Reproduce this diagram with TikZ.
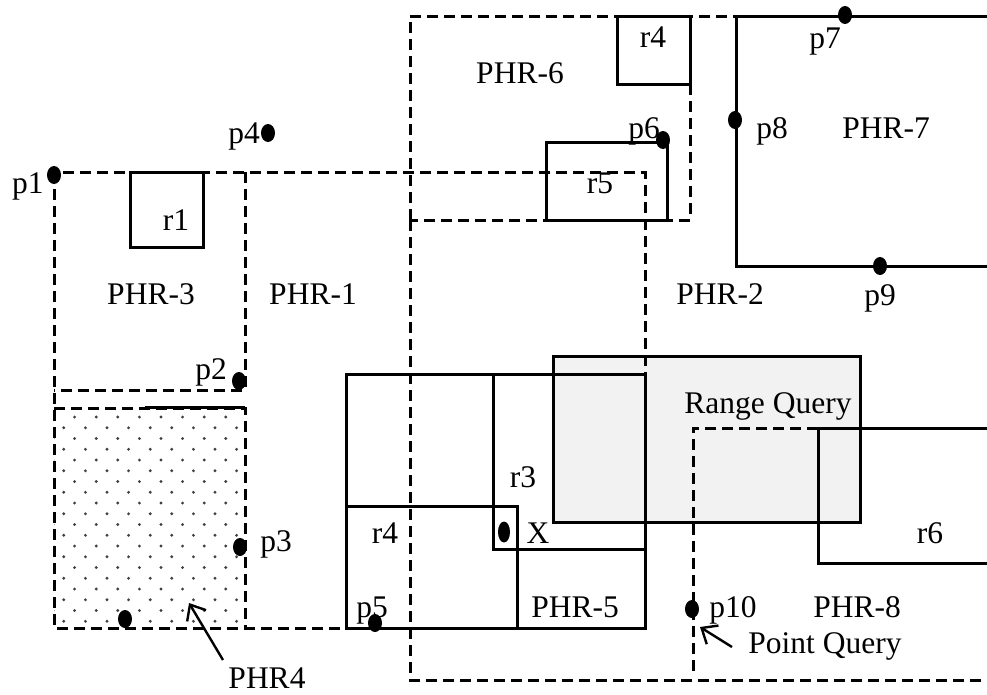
\documentclass[tikz,border=0pt]{standalone}
\usepackage{fontspec}
\setmainfont{Liberation Serif}
\usetikzlibrary{shapes.geometric,arrows.meta}
\tikzset{
  dsh/.style={line width=3pt, dash pattern=on 11pt off 6pt},
  sld/.style={line width=3pt},
  pt/.style={ellipse, fill=black, inner sep=0pt, minimum width=14pt, minimum height=18pt},
  lbl/.style={anchor=base, inner sep=0pt, font=\fontsize{31.5}{36}\selectfont},
  arr/.style={line width=2.4pt, -{Straight Barb[length=13pt,width=22pt,line width=2.4pt]}}
}
\begin{document}
\begin{tikzpicture}[x=1pt,y=-1pt]
\useasboundingbox (0,0) rectangle (987,694);
% range query fill
\fill[black!5] (553,356) rectangle (860,522);
% dotted PHR4
\begin{scope}
\clip (54,408) rectangle (245,628);
\foreach \i in {0,...,20}{
  \foreach \j in {0,...,9}{
    \pgfmathsetmacro{\xx}{53+21.6*\j+10.8*mod(\i,2)}
    \pgfmathsetmacro{\yy}{417+10.75*\i}
    \fill[black!75] (\xx,\yy) circle (1.6pt);
  }
}
\end{scope}
% dashed regions
\draw[dsh] (54,172) rectangle (645,628);
\draw[dsh] (245,172) -- (245,390) -- (54,390);
\draw[dsh] (54,408) -- (245,408) -- (245,628);
\draw[sld] (145,407) -- (245,407);
\draw[dsh] (410,220) -- (410,16) -- (987,16);
\draw[dsh] (690,16) -- (690,220) -- (410,220);
\draw[dsh] (410,220) -- (410,680) -- (987,680);
\draw[dsh] (818,428) -- (693,428) -- (693,672);
% solid rectangles
\draw[sld] (130,172) rectangle (203,247);
\draw[sld] (617,16) rectangle (690,84);
\draw[sld] (546,142) rectangle (667,220);
\draw[sld] (987,16) -- (736,16) -- (736,266) -- (987,266);
\draw[sld] (346,374) rectangle (645,628);
\draw[sld] (493,374) rectangle (645,549);
\draw[sld] (346,506) rectangle (517,628);
\draw[sld] (553,356) rectangle (860,522);
\draw[sld] (987,428) -- (818,428) -- (818,563) -- (987,563);
% points
\node[pt] (p1) at (54,175) {};
\node[pt] (p2) at (239,381) {};
\node[pt] (p3) at (240,547) {};
\node[pt] (p4) at (268,133) {};
\node[pt] (q4) at (125,619) {};
\node[pt] (p5) at (375,623) {};
\node[pt, minimum width=12pt, minimum height=21pt] (px) at (504,532) {};
\node[pt] (p6) at (663,140) {};
\node[pt] (p7) at (845,15) {};
\node[pt] (p8) at (735,120) {};
\node[pt] (p9) at (880,266) {};
\node[pt] (p10) at (692,609) {};
% labels
\node[lbl] (lp1) at (28,193) {p1};
\node[lbl] (lp4) at (244,143) {p4};
\node[lbl] (lr1) at (176,230) {r1};
\node[lbl] (lphr3) at (151,304) {PHR-3};
\node[lbl] (lphr1) at (313,304) {PHR-1};
\node[lbl] (lp2) at (211,379) {p2};
\node[lbl] (lp3) at (276,551) {p3};
\node[lbl] (lphr4) at (267,688) {PHR4};
\node[lbl] (lphr6) at (520,83) {PHR-6};
\node[lbl] (lr4a) at (653,47) {r4};
\node[lbl] (lp6) at (644,138) {p6};
\node[lbl] (lr5) at (600,193) {r5};
\node[lbl] (lp7) at (825,48) {p7};
\node[lbl] (lp8) at (772,138) {p8};
\node[lbl] (lphr7) at (886,138) {PHR-7};
\node[lbl] (lphr2) at (720,304) {PHR-2};
\node[lbl] (lp9) at (880,305) {p9};
\node[lbl] (lrq) at (768,413) {Range Query};
\node[lbl] (lr3) at (523,487) {r3};
\node[lbl] (lr4b) at (385,543) {r4};
\node[lbl] (lx) at (538,543) {X};
\node[lbl] (lr6) at (930,543) {r6};
\node[lbl] (lp5) at (372,617) {p5};
\node[lbl] (lphr5) at (575,617) {PHR-5};
\node[lbl] (lp10) at (733,617) {p10};
\node[lbl] (lphr8) at (857,617) {PHR-8};
\node[lbl] (lpq) at (825,653) {Point Query};
% arrows
\coordinate (a4tail) at (223,660);
\coordinate (a4tip) at (189,603);
\draw[arr] (a4tail) -- (a4tip);
\coordinate (aqtail) at (732,647);
\coordinate (aqtip) at (700,627);
\draw[arr] (aqtail) -- (aqtip);
\end{tikzpicture}
\end{document}
